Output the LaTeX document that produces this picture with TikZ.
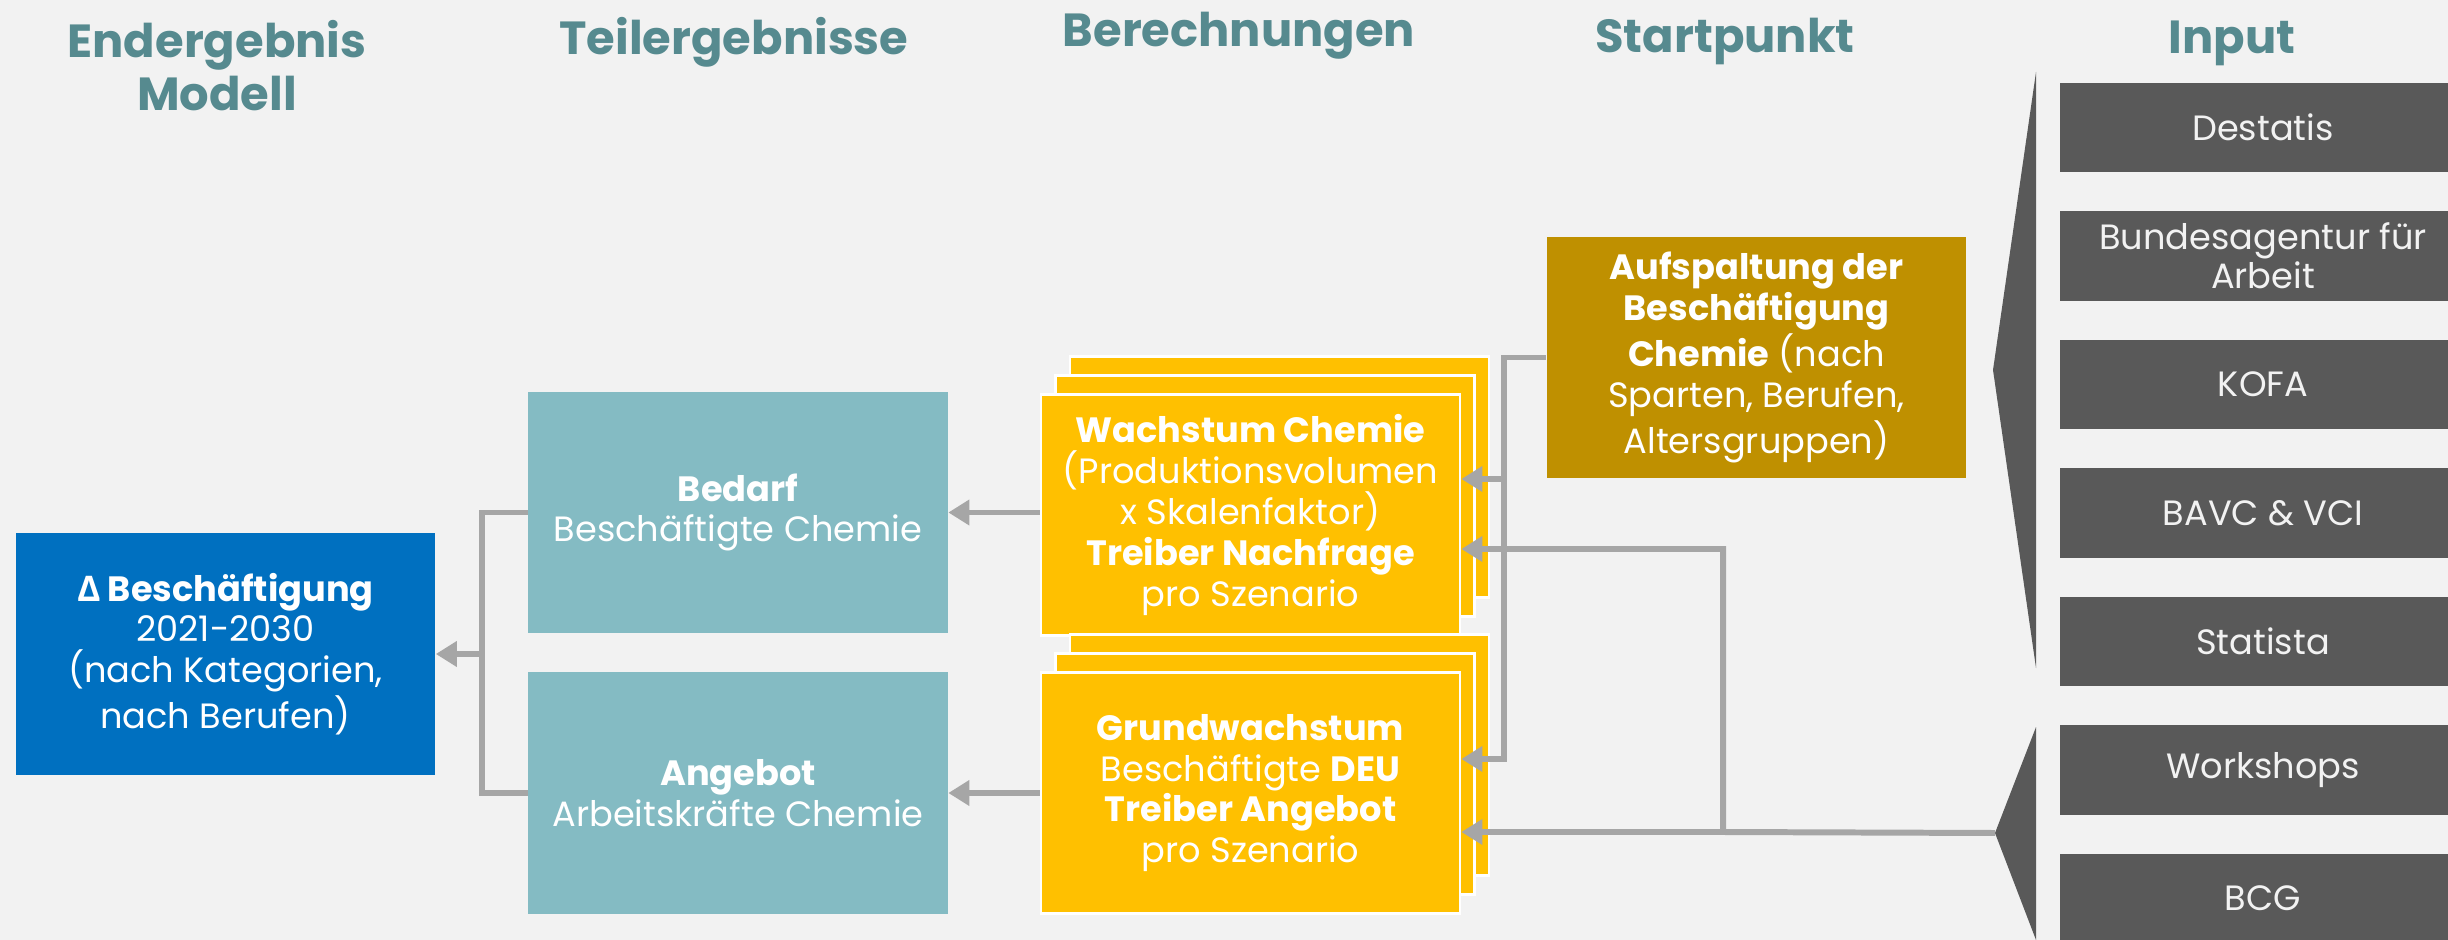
\documentclass[tikz,border=0pt]{standalone}
\usepackage{fontspec}
\setmainfont{Poppins}
\newfontfamily\deltafont{Open Sans}
\usepackage{tikz}
\usetikzlibrary{arrows.meta,calc,shadows}
\definecolor{bcBack}{RGB}{242,242,242}
\definecolor{bcHead}{RGB}{86,138,143}
\definecolor{bcBlue}{RGB}{0,112,192}
\definecolor{bcTeal}{RGB}{132,187,195}
\definecolor{bcYellow}{RGB}{255,192,0}
\definecolor{bcGold}{RGB}{191,144,0}
\definecolor{bcGray}{RGB}{89,89,89}
\definecolor{bcLink}{RGB}{166,166,166}

\tikzset{
  hdr/.style={font=\fontsize{13.2}{15.3}\selectfont\bfseries, text=bcHead, align=center, inner sep=0pt},
  box/.style={minimum width=4.19cm, minimum height=2.41cm, align=center, inner sep=1pt, text=white, font=\fontsize{10}{11.6}\selectfont},
  stack/.style={box, fill=bcYellow, draw=white, line width=0.7pt,
    copy shadow={shadow xshift=0.29cm, shadow yshift=0.38cm, fill=bcYellow, draw=white, line width=0.7pt},
    copy shadow={shadow xshift=0.145cm, shadow yshift=0.19cm, fill=bcYellow, draw=white, line width=0.7pt}},
  src/.style={minimum width=4.06cm, minimum height=0.89cm, fill=bcGray, text=bcBack, align=center, inner sep=1pt, font=\fontsize{10}{11}\selectfont},
  link/.style={bcLink, line width=1.7pt}
}

\begin{document}
\begin{tikzpicture}[x=0.01cm, y=-0.01cm, >={Triangle[length=6pt,width=7pt]}]
  \useasboundingbox (0,0) rectangle (2448,940);
  \clip (0,0) rectangle (2448,940);
  \fill[bcBack] (0,0) rectangle (2448,940);

  % Column heads
  \node[hdr, anchor=base] (hEnd) at (217,111) {Endergebnis\\Modell};
  \node[hdr, anchor=base] (hPart) at (734,55) {Teilergebnisse};
  \node[hdr, anchor=base] (hCalc) at (1239,47) {Berechnungen};
  \node[hdr, anchor=base] (hStart) at (1725,53) {Startpunkt};
  \node[hdr, anchor=base] (hIn) at (2232,54) {Input};

  % Result
  \node[box, fill=bcBlue] (result) at (225.5,654)
    {\textbf{{\deltafont Δ} Beschäftigung}\\2021-2030\\(nach Kategorien,\\nach Berufen)};

  % Partial results
  \node[box, fill=bcTeal] (bedarf) at (738,512.5) {\textbf{Bedarf}\\Beschäftigte Chemie};
  \node[box, fill=bcTeal] (angebot) at (738,793) {\textbf{Angebot}\\Arbeitskräfte Chemie};

  % Calculations (one per scenario)
  \node[stack] (wachstum) at (1250.5,515)
    {\textbf{Wachstum Chemie}\\(Produktionsvolumen\\x Skalenfaktor)\\\textbf{Treiber Nachfrage}\\pro Szenario};
  \node[stack] (grund) at (1250.5,793)
    {\textbf{Grundwachstum}\\Beschäftigte \textbf{DEU}\\\textbf{Treiber Angebot}\\pro Szenario};

  % Starting point
  \node[box, fill=bcGold] (aufsp) at (1756.5,357.5)
    {\textbf{Aufspaltung der}\\\textbf{Beschäftigung}\\\textbf{Chemie} (nach\\Sparten, Berufen,\\Altersgruppen)};

  % Input sources
  \node[src] (destatis) at (2263,127.5) {Destatis};
  \node[src] (ba) at (2263,256) {Bundesagentur für\\Arbeit};
  \node[src] (kofa) at (2263,384.5) {KOFA};
  \node[src] (bavc) at (2263,513) {BAVC \& VCI};
  \node[src] (statista) at (2263,641.5) {Statista};
  \node[src] (workshops) at (2263,770) {Workshops};
  \node[src] (bcg) at (2263,898.5) {BCG};

  % Brackets
  \fill[bcGray] (2036,72) -- (1993,370) -- (2036,668) -- cycle;
  \fill[bcGray] (2036,727) -- (1995,833) -- (2036,940) -- cycle;
  \coordinate (inTip) at (1995,833);

  % Links
  \coordinate (mergeL) at (482,654);
  \draw[link] (bedarf.west) -| (mergeL) |- (angebot.west);
  \draw[link, ->] (mergeL) -- (result.east);
  \draw[link, ->] (wachstum.west |- bedarf.east) -- (bedarf.east);
  \draw[link, ->] (grund.west |- angebot.east) -- (angebot.east);

  \coordinate (splitA) at (1504,479);
  \coordinate (splitB) at (1504,759);
  \draw[link, ->] (aufsp.west) -| (splitB) -- (grund.east |- splitB);
  \draw[link, ->] (splitA) -- (wachstum.east |- splitA);

  \coordinate (splitC) at (1723,832);
  \coordinate (drvN) at ($(wachstum.east)+(0,34)$);
  \draw[link, ->] (inTip) -- (splitC) |- (drvN);
  \draw[link, ->] (splitC) -- (grund.east |- splitC);
\end{tikzpicture}
\end{document}
